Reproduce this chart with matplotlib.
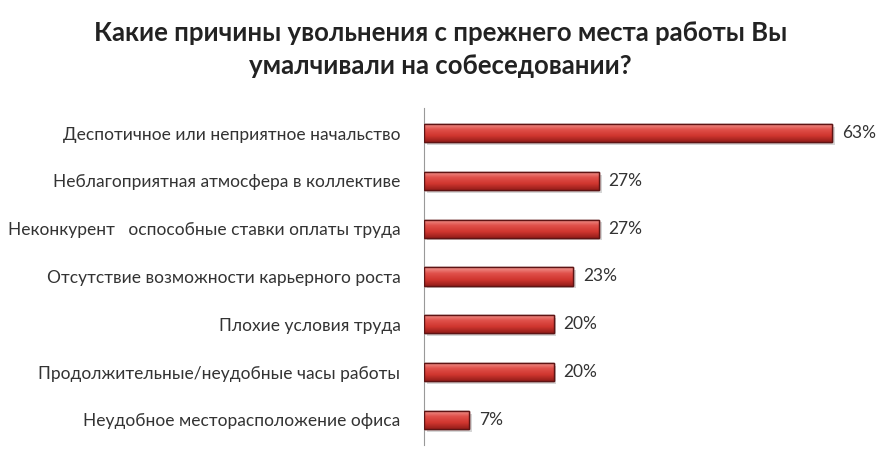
import numpy as np
import matplotlib.pyplot as plt
import matplotlib.patheffects as pe
from matplotlib.colors import LinearSegmentedColormap

reasons = [
    "Деспотичное или неприятное начальство",
    "Неблагоприятная атмосфера в коллективе",
    "Неконкурент   оспособные ставки оплаты труда",
    "Отсутствие возможности карьерного роста",
    "Плохие условия труда",
    "Продолжительные/неудобные часы работы",
    "Неудобное месторасположение офиса",
]
shares = [63, 27, 27, 23, 20, 20, 7]
value_labels = ["63%", "27%", "27%", "23%", "20%", "20%", "7%"]
title = "Какие причины увольнения с прежнего места работы Вы\nумалчивали на собеседовании?"

plt.rcParams['font.family'] = ['Lato', 'DejaVu Sans']

fig = plt.figure(figsize=(8.86, 4.5), dpi=100)
ax = fig.add_axes([424 / 886, 0.011, 453.6 / 886, 0.749])

y = np.arange(len(reasons))
bars = ax.barh(y, shares, height=0.38, color='#d43c37', edgecolor='#5e1414',
               linewidth=1.0, zorder=2,
               path_effects=[pe.SimplePatchShadow(offset=(2, -2), shadow_rgbFace='#bbbbbb', alpha=0.6),
                             pe.Normal()])

# vertical gradient inside every bar
cmap = LinearSegmentedColormap.from_list('barred', ['#f29a93', '#e0504a', '#d0362f', '#951d1a'])
grad = np.linspace(0, 1, 64).reshape(-1, 1)
for b in bars:
    x0, y0 = b.get_x(), b.get_y()
    w, h = b.get_width(), b.get_height()
    im = ax.imshow(grad, cmap=cmap, aspect='auto', extent=[x0, x0 + w, y0 + h, y0],
                   zorder=3, interpolation='bicubic')
    im.set_clip_path(b)
    ax.add_patch(plt.Rectangle((x0, y0), w, h, fill=False, edgecolor='#5e1414',
                               linewidth=1.0, zorder=4))

for yi, v, lab in zip(y, shares, value_labels):
    ax.text(v + 1.5, yi, lab, va='center', ha='left', fontsize=12.5, color='#333333')

ax.set_xlim(0, 70)
ax.set_ylim(6.527, -0.523)
ax.set_yticks(y)
ax.set_yticklabels(reasons, fontsize=12.5, color='#333333')
ax.tick_params(axis='y', length=0, pad=17)
ax.set_xticks([])
for s in ['top', 'right', 'bottom']:
    ax.spines[s].set_visible(False)
ax.spines['left'].set_color('#999999')
ax.spines['left'].set_linewidth(0.8)

fig.text(0.497, 0.89, title, ha='center', va='center', fontsize=18.5,
         fontweight='bold', color='#222222', linespacing=1.45)

fig.savefig('out.png', dpi=100, facecolor='white')
